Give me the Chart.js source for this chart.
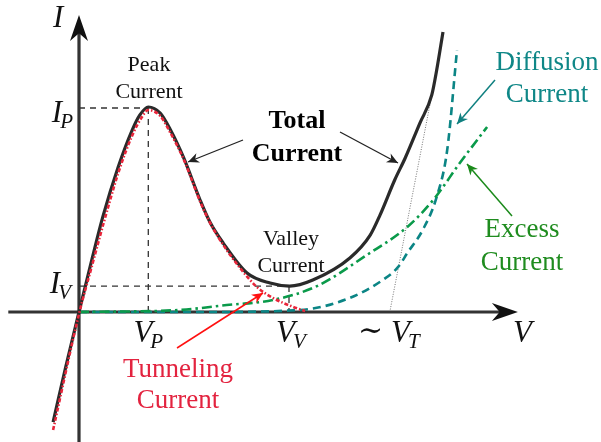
<!DOCTYPE html>
<html>
<head>
<meta charset="utf-8">
<script src="https://cdn.jsdelivr.net/npm/chart.js@4"></script>
<style>
  html, body { margin:0; padding:0; background:#fff; }
  #wrap { width:601px; height:442px; position:relative; }
</style>
</head>
<body>
<div id="wrap"><canvas id="c"></canvas></div>
<script>
// tunnel diode I-V curve (arbitrary units, I_P = 1)

// total current (black)
const totalV = [-0.37,-0.19,0,0.19,0.34,0.56,0.76,0.87,0.99,1.16,1.3,1.49,1.73,1.87,2.06,2.4,2.73,3.01,3.34,3.87,4.16,4.3,4.51,4.66,4.87,5.04,5.11,5.2];
const totalI = [-0.54,-0.27,0,0.265,0.466,0.711,0.892,0.966,1.005,0.975,0.897,0.76,0.549,0.441,0.338,0.191,0.142,0.127,0.157,0.265,0.377,0.475,0.647,0.755,0.926,1.064,1.186,1.373];

// tunneling current (red)
const tunnelV = [-0.37,0,0.2,0.36,0.57,0.77,0.89,0.99,1.16,1.3,1.5,1.74,1.89,2.07,2.3,2.54,2.77,3.06,3.23];
const tunnelI = [-0.578,-0.01,0.245,0.446,0.691,0.873,0.951,0.99,0.961,0.882,0.745,0.534,0.426,0.324,0.216,0.123,0.069,0.025,0.005];

// excess current (green)
const excessV = [0,1.44,2.11,2.77,3.4,4.11,4.69,5.06,5.44,5.83];
const excessI = [0,0.01,0.034,0.059,0.127,0.279,0.417,0.549,0.73,0.907];

// diffusion current (teal)
const diffV = [0,1.73,3.16,3.87,4.34,4.56,4.69,4.91,5.11,5.26,5.4];
const diffI = [0,0,0.01,0.069,0.157,0.221,0.289,0.402,0.564,0.794,1.284];

// marked points
const VP = 0.99, VV = 3.0, VT = 4.44;
const IP = 1.0, IV = 0.127;
const tangentTop = [5.04, 1.064];

const pts = (xs, ys) => xs.map((x,i)=>({x:x, y:ys[i]}));
const SERIF = '"Liberation Serif", "DejaVu Serif", serif';

function arrowHead(ctx, x1, y1, x2, y2, len, half, color){
    const a = Math.atan2(y2-y1, x2-x1);
    ctx.save();
    ctx.translate(x2,y2);
    ctx.rotate(a);
    ctx.fillStyle = color;
    ctx.beginPath();
    ctx.moveTo(0,0);
    ctx.lineTo(-len,-half);
    ctx.lineTo(-len*0.7,0);
    ctx.lineTo(-len,half);
    ctx.closePath();
    ctx.fill();
    ctx.restore();
}

function arrow(ctx, x1, y1, x2, y2, color, w){
    ctx.save();
    ctx.strokeStyle = color;
    ctx.lineWidth = w;
    ctx.setLineDash([]);
    ctx.beginPath();
    ctx.moveTo(x1,y1);
    ctx.lineTo(x2,y2);
    ctx.stroke();
    ctx.restore();
    arrowHead(ctx, x1, y1, x2, y2, 11, 5, color);
}

// italic letter with subscript, centred (c), left (l) or right aligned (r)
function mathLabel(ctx, main, sub, x, y, align, pre){
    ctx.save();
    ctx.fillStyle = '#111';
    ctx.textBaseline = 'alphabetic';
    ctx.textAlign = 'left';
    const fMain = 'italic 31px ' + SERIF;
    const fSub = 'italic 21px ' + SERIF;
    const fPre = '30px ' + SERIF;
    ctx.font = fPre; const wPre = pre ? ctx.measureText(pre).width + 8 : 0;
    ctx.font = fMain; const wMain = ctx.measureText(main).width;
    ctx.font = fSub; const wSub = sub ? ctx.measureText(sub).width : 0;
    const total = wPre + wMain + wSub;
    let x0 = align === 'r' ? x - total : align === 'l' ? x : x - total/2;
    if(pre){ ctx.font = fPre; ctx.fillText(pre, x0, y - 2); }
    ctx.font = fMain; ctx.fillText(main, x0 + wPre, y);
    if(sub){ ctx.font = fSub; ctx.fillText(sub, x0 + wPre + wMain - 2, y + 6); }
    ctx.restore();
}

function twoLines(ctx, a, b, x, y1, y2, font, color){
    ctx.save();
    ctx.font = font;
    ctx.fillStyle = color;
    ctx.textAlign = 'center';
    ctx.textBaseline = 'alphabetic';
    ctx.fillText(a, x, y1);
    ctx.fillText(b, x, y2);
    ctx.restore();
}

const diagram = {
    id: 'diagram',
    beforeDatasetsDraw(chart){
        const ctx = chart.ctx, xs = chart.scales.x, ys = chart.scales.y;
        const X = v => xs.getPixelForValue(v), Y = v => ys.getPixelForValue(v);

        // guide lines
        ctx.save();
        ctx.strokeStyle = '#333';
        ctx.lineWidth = 1.3;
        ctx.setLineDash([6,5]);
        ctx.beginPath();
        ctx.moveTo(X(0), Y(IP)); ctx.lineTo(X(VP), Y(IP));
        ctx.moveTo(X(VP), Y(IP)); ctx.lineTo(X(VP), Y(0));
        ctx.moveTo(X(0), Y(IV)); ctx.lineTo(X(VV), Y(IV));
        ctx.moveTo(X(VV), Y(IV)); ctx.lineTo(X(VV), Y(0));
        ctx.stroke();
        // tangent from V_T
        ctx.strokeStyle = '#666';
        ctx.lineWidth = 0.9;
        ctx.setLineDash([1,1.5]);
        ctx.beginPath();
        ctx.moveTo(X(VT), Y(0)); ctx.lineTo(X(tangentTop[0]), Y(tangentTop[1]));
        ctx.stroke();
        ctx.restore();

        // axes
        ctx.save();
        ctx.strokeStyle = '#333';
        ctx.lineWidth = 3.2;
        ctx.setLineDash([]);
        const xEnd = X(6.27), yEnd = Y(1.456);
        ctx.beginPath();
        ctx.moveTo(X(-1.01), Y(0)); ctx.lineTo(xEnd - 15, Y(0));
        ctx.moveTo(X(0), Y(-0.64)); ctx.lineTo(X(0), yEnd + 15);
        ctx.stroke();
        ctx.restore();
        arrowHead(ctx, X(0), Y(0), xEnd, Y(0), 26, 9, '#111');
        arrowHead(ctx, X(0), Y(0), X(0), yEnd, 26, 9, '#111');
    },
    afterDatasetsDraw(chart){
        const ctx = chart.ctx, xs = chart.scales.x, ys = chart.scales.y;
        const X = v => xs.getPixelForValue(v), Y = v => ys.getPixelForValue(v);

        // axis labels
        mathLabel(ctx, 'I', '', X(0) - 26, Y(1.456) + 12, 'l');
        mathLabel(ctx, 'V', '', X(6.27) - 5, Y(0) + 30, 'l');
        mathLabel(ctx, 'I', 'P', X(0) - 4, Y(IP) + 14, 'r');
        mathLabel(ctx, 'I', 'V', X(0) - 6, Y(IV) + 7, 'r');
        mathLabel(ctx, 'V', 'P', X(VP) + 1, Y(0) + 30, 'c');
        mathLabel(ctx, 'V', 'V', X(VV) + 3, Y(0) + 30, 'c');
        mathLabel(ctx, 'V', 'T', X(VT), Y(0) + 30, 'c', '\u223C');

        // text notes
        twoLines(ctx, 'Peak', 'Current', 149, 71, 98, '22px ' + SERIF, '#111');
        twoLines(ctx, 'Valley', 'Current', 291, 245, 272, '22px ' + SERIF, '#111');
        twoLines(ctx, 'Total', 'Current', 297, 128, 161, 'bold 26px ' + SERIF, '#000');
        twoLines(ctx, 'Tunneling', 'Current', 178, 377, 408, '27px ' + SERIF, '#e3233f');
        twoLines(ctx, 'Diffusion', 'Current', 547, 70, 102, '27px ' + SERIF, '#0f8787');
        twoLines(ctx, 'Excess', 'Current', 522, 237, 270, '27px ' + SERIF, '#1f8c1f');

        // pointer arrows
        arrow(ctx, 243, 140, 188, 162, '#222', 1.3);
        arrow(ctx, 340, 132, 398, 163, '#222', 1.3);
        arrow(ctx, 177, 348, 263, 293, '#ff1010', 1.5);
        arrow(ctx, 495, 80, 457, 124, '#108080', 1.5);
        arrow(ctx, 512, 216, 467, 164, '#1b8a1b', 1.5);
    }
};

function draw(){
    new Chart(document.getElementById('c'), {
        type: 'scatter',
        data: {
            datasets: [
                { label:'Tunneling', data: pts(tunnelV, tunnelI), showLine:true, borderColor:'#e8253a', borderWidth:2.6,
                  borderDash:[4,2,1.5,2], pointRadius:0, cubicInterpolationMode:'monotone', order:0 },
                { label:'Total', data: pts(totalV, totalI), showLine:true, borderColor:'#2a2a2a', borderWidth:3.2,
                  pointRadius:0, cubicInterpolationMode:'monotone', order:1 },
                { label:'Excess', data: pts(excessV, excessI), showLine:true, borderColor:'#0a9a4a', borderWidth:2.6,
                  borderDash:[10,4,2.5,4], pointRadius:0, cubicInterpolationMode:'monotone', order:2 },
                { label:'Diffusion', data: pts(diffV, diffI), showLine:true, borderColor:'#0b8585', borderWidth:2.6,
                  borderDash:[8,5], pointRadius:0, cubicInterpolationMode:'monotone', order:3 }
            ]
        },
        options: {
            responsive:true,
            maintainAspectRatio:false,
            animation:false,
            layout:{ padding:0 },
            plugins:{ legend:{display:false}, tooltip:{enabled:false} },
            scales:{
                x:{ type:'linear', display:false, min:-79/70, max:522/70 },
                y:{ type:'linear', display:false, min:-130/204, max:312/204 }
            }
        },
        plugins:[diagram]
    });
}

// make sure the serif faces are ready before the canvas text is drawn
Promise.all([
    document.fonts.load('22px "Liberation Serif"'),
    document.fonts.load('bold 26px "Liberation Serif"'),
    document.fonts.load('italic 31px "Liberation Serif"')
]).then(draw, draw);
</script>
</body>
</html>
